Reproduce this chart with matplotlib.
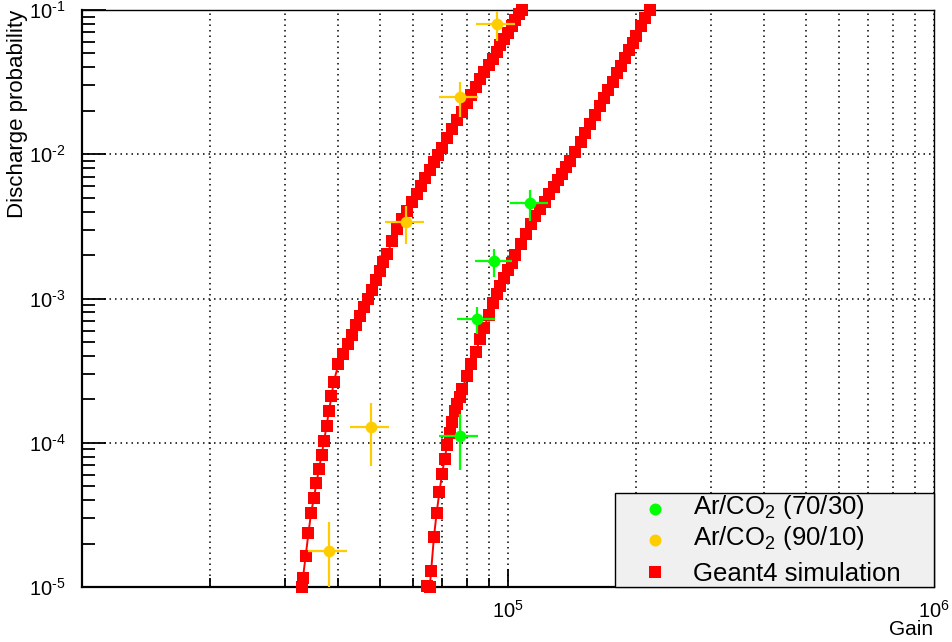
import matplotlib
matplotlib.use("Agg")
import matplotlib.pyplot as plt
from matplotlib.ticker import LogLocator, NullFormatter, FixedLocator, FixedFormatter
from matplotlib.patches import Rectangle
from matplotlib.lines import Line2D

plt.rcParams['font.family'] = ['Liberation Sans', 'DejaVu Sans']
plt.rcParams['mathtext.fontset'] = 'custom'
plt.rcParams['mathtext.rm'] = 'Liberation Sans'
plt.rcParams['mathtext.it'] = 'Liberation Sans:italic'
plt.rcParams['mathtext.bf'] = 'Liberation Sans:bold'

# ---------------- data ----------------
# Geant4 simulation, Ar/CO2 (90/10)
sim_9010_gain = [32800, 33000, 33500, 34000, 34500, 35000, 35500, 36000, 36500, 37000,
                 37500, 38000, 38500, 39000, 40000, 41000, 42000, 43000, 44000, 45000,
                 46000, 47000, 48000, 49000, 50000, 51000, 52000, 53500, 55000, 56500,
                 58000, 59500, 61000, 62500, 64000, 65500, 67000, 68500, 70000, 72000,
                 74000, 76000, 78000, 80000, 82000, 84000, 86000, 88000, 90000, 92000,
                 94000, 96000, 98000, 100000, 102000, 104000, 106000, 108000]
sim_9010_prob = [1.00e-5, 1.15e-5, 1.64e-5, 2.35e-5, 3.27e-5, 4.11e-5, 5.22e-5, 6.58e-5, 8.20e-5, 1.03e-4,
                 1.31e-4, 1.66e-4, 2.10e-4, 2.65e-4, 3.52e-4, 4.12e-4, 4.81e-4, 5.61e-4, 6.50e-4, 7.52e-4,
                 8.67e-4, 9.97e-4, 1.15e-3, 1.34e-3, 1.54e-3, 1.78e-3, 2.04e-3, 2.49e-3, 3.03e-3, 3.54e-3,
                 4.07e-3, 4.66e-3, 5.32e-3, 6.05e-3, 6.87e-3, 7.78e-3, 8.77e-3, 9.86e-3, 1.11e-2, 1.29e-2,
                 1.49e-2, 1.72e-2, 1.97e-2, 2.26e-2, 2.57e-2, 2.92e-2, 3.31e-2, 3.70e-2, 4.14e-2, 4.61e-2,
                 5.13e-2, 5.69e-2, 6.31e-2, 6.97e-2, 7.69e-2, 8.47e-2, 9.31e-2, 9.95e-2]

# Geant4 simulation, Ar/CO2 (70/30)
sim_7030_gain = [64500, 65500, 66000, 67000, 68000, 69000, 70000, 71000, 72000, 73000, 74000,
                 75000, 76000, 77000, 78000, 80000, 82000, 84000, 86000, 88000, 90000,
                 92000, 94000, 96000, 98000, 100000, 102000, 104000, 107000, 110000, 113000,
                 116000, 119000, 122000, 125000, 128000, 131000, 134000, 137000, 140000, 144000,
                 148000, 152000, 156000, 160000, 164000, 168000, 172000, 176000, 180000, 184000,
                 188000, 192000, 196000, 200000, 205000, 210000, 215000]
sim_7030_prob = [1.02e-5, 1.00e-5, 1.29e-5, 2.21e-5, 3.27e-5, 4.53e-5, 6.05e-5, 7.75e-5, 9.70e-5, 1.16e-4, 1.39e-4,
                 1.65e-4, 1.86e-4, 2.08e-4, 2.34e-4, 2.88e-4, 3.51e-4, 4.27e-4, 5.20e-4, 6.28e-4, 7.69e-4,
                 9.35e-4, 1.08e-3, 1.22e-3, 1.39e-3, 1.57e-3, 1.77e-3, 2.00e-3, 2.37e-3, 2.81e-3, 3.27e-3,
                 3.71e-3, 4.18e-3, 4.70e-3, 5.27e-3, 5.90e-3, 6.59e-3, 7.33e-3, 8.15e-3, 9.02e-3, 1.04e-2,
                 1.21e-2, 1.40e-2, 1.62e-2, 1.87e-2, 2.15e-2, 2.46e-2, 2.81e-2, 3.19e-2, 3.63e-2, 4.12e-2,
                 4.66e-2, 5.26e-2, 5.93e-2, 6.65e-2, 7.69e-2, 8.81e-2, 9.95e-2]

# Measurements, Ar/CO2 (70/30)
meas_7030_gain = [7.70e4, 8.47e4, 9.29e4, 1.127e5]
meas_7030_gain_err = [8.0e3, 8.6e3, 9.4e3, 1.16e4]
meas_7030_prob = [1.11e-4, 7.18e-4, 1.81e-3, 4.57e-3]
meas_7030_prob_err = [4.6e-5, 1.55e-4, 4.0e-4, 1.12e-3]

# Measurements, Ar/CO2 (90/10)
meas_9010_gain = [3.79e4, 4.76e4, 5.75e4, 7.70e4, 9.41e4]
meas_9010_gain_err = [3.95e3, 5.05e3, 6.05e3, 8.1e3, 1.0e4]
meas_9010_prob = [1.78e-5, 1.29e-4, 3.37e-3, 2.48e-2, 7.96e-2]
meas_9010_prob_err = [1.06e-5, 6.0e-5, 9.9e-4, 6.8e-3, 1.9e-2]

legend_labels = [r"Ar/CO$_2$ (70/30)", r"Ar/CO$_2$ (90/10)", "Geant4 simulation"]
y_tick_values = [1e-5, 1e-4, 1e-3, 1e-2, 1e-1]
y_tick_labels = ["$10^{\u20105}$", "$10^{\u20104}$", "$10^{\u20103}$", "$10^{\u20102}$", "$10^{\u20101}$"]
x_tick_values = [1e5, 1e6]
x_tick_labels = [r"$10^{5}$", r"$10^{6}$"]

GREEN = "#00ff00"
ORANGE = "#ffcc00"
RED = "#ff0000"

# ---------------- figure ----------------
W, H = 953, 642
fig = plt.figure(figsize=(W / 100, H / 100), dpi=100)
x0, x1, y0, y1 = 82, 934, 10, 587
ax = fig.add_axes([x0 / W, 1 - y1 / H, (x1 - x0) / W, (y1 - y0) / H])

ax.set_xscale("log")
ax.set_yscale("log")
ax.set_xlim(1e4, 1e6)
ax.set_ylim(1e-5, 1e-1)

# grid: x on every decade subdivision, y on decades only
ax.set_axisbelow(True)
ax.xaxis.set_minor_locator(LogLocator(base=10, subs=range(2, 10), numticks=20))
ax.yaxis.set_minor_locator(LogLocator(base=10, subs=range(2, 10), numticks=20))
ax.xaxis.set_minor_formatter(NullFormatter())
ax.yaxis.set_minor_formatter(NullFormatter())
grid_kw = dict(color="black", linestyle=(0, (1, 2.6)), linewidth=1.1)
ax.grid(True, which="both", axis="x", **grid_kw)
ax.grid(True, which="major", axis="y", **grid_kw)

ax.yaxis.set_major_locator(FixedLocator(y_tick_values))
ax.yaxis.set_major_formatter(FixedFormatter(y_tick_labels))
ax.xaxis.set_major_locator(FixedLocator(x_tick_values))
ax.xaxis.set_major_formatter(FixedFormatter(x_tick_labels))

ax.tick_params(axis="both", which="both", direction="in", top=False, right=False,
               width=1.3, color="black")
ax.tick_params(axis="y", which="major", length=17.3, labelsize=14.5, pad=12)
ax.tick_params(axis="y", which="minor", length=9.4)
ax.tick_params(axis="x", which="major", length=13, labelsize=14.5, pad=9)
ax.tick_params(axis="x", which="minor", length=6.5)

for side in ("left", "bottom"):
    ax.spines[side].set_linewidth(1.6)
for side in ("top", "right"):
    ax.spines[side].set_linewidth(1.0)

# simulation curves
for g, p in ((sim_9010_gain, sim_9010_prob), (sim_7030_gain, sim_7030_prob)):
    ax.plot(g, p, color=RED, lw=1.4, marker="s", ms=8.6, mew=0, mfc=RED,
            clip_on=False, zorder=3)

# measurements
err_kw = dict(fmt="o", ms=8.4, mew=0, elinewidth=1.6, capsize=2.6, capthick=1.6, zorder=4)
ax.errorbar(meas_7030_gain, meas_7030_prob, xerr=meas_7030_gain_err,
            yerr=meas_7030_prob_err, color=GREEN, **err_kw)
ax.errorbar(meas_9010_gain, meas_9010_prob, xerr=meas_9010_gain_err,
            yerr=meas_9010_prob_err, color=ORANGE, **err_kw)

# axis titles
fig.text(18 / W, 1 - 10 / H, "Discharge probability", rotation=90, ha="center", va="top",
         fontsize=16)
fig.text(933 / W, 1 - 635 / H, "Gain", ha="right", va="baseline", fontsize=15)

# legend box
def ax_y(py):
    return (y1 - py) / (y1 - y0)

def ax_x(px):
    return (px - x0) / (x1 - x0)

ax.add_patch(Rectangle((ax_x(615), 0), 1 - ax_x(615), ax_y(493), transform=ax.transAxes,
                       facecolor="#f0f0f0", edgecolor="black", linewidth=1.0,
                       zorder=6, clip_on=False))
rows = [(509, 514, GREEN, "o", 8.6), (540, 545, ORANGE, "o", 8.6), (572, 581, RED, "s", 8.0)]
for (my, by, col, mk, msz), lab in zip(rows, legend_labels):
    ax.add_line(Line2D([ax_x(655)], [ax_y(my)], transform=ax.transAxes, marker=mk,
                       color=col, ms=msz, mew=0, linestyle="none", zorder=7, clip_on=False))
    ax.text(ax_x(693), ax_y(by), lab, transform=ax.transAxes, ha="left", va="baseline",
            fontsize=18.5, zorder=7)

fig.savefig("out.png", dpi=100)
